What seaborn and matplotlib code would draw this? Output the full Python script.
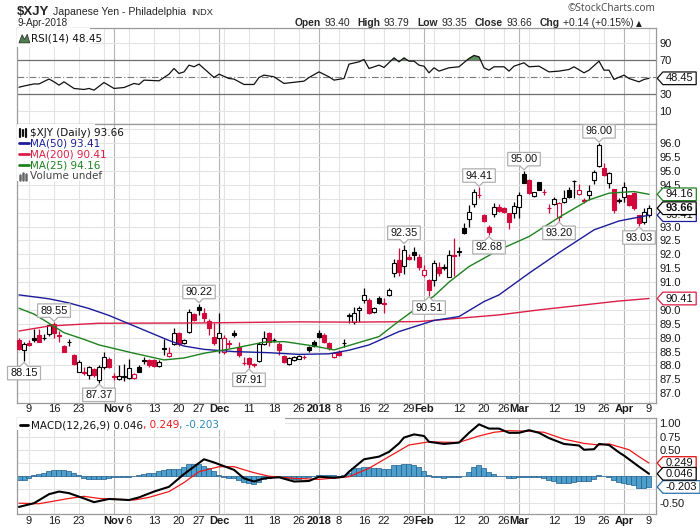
import numpy as np
import pandas as pd
import matplotlib
matplotlib.use("Agg")
import matplotlib.pyplot as plt
from matplotlib.path import Path
from matplotlib.lines import Line2D
from matplotlib.patches import Rectangle, Polygon
import seaborn as sns

# ---------------- data ----------------
holidays = ["2017-11-23", "2017-12-25", "2018-01-01", "2018-01-15", "2018-02-19", "2018-03-30"]
dates = pd.bdate_range("2017-10-05", "2018-04-09")
dates = dates[~dates.isin(pd.to_datetime(holidays))]

prior_close = 88.90
opens = [88.92, 88.54, 88.80, 89.00, 89.10, 88.98, 89.14, 89.50, 89.10, 88.70,
         88.85, 88.38, 87.78, 87.76, 87.66, 87.88, 87.48, 87.93, 88.24, 87.62,
         87.52, 87.60, 87.55, 87.55, 87.93, 88.16, 88.20, 88.20, 87.98, 88.62,
         88.34, 88.78, 89.18, 88.80, 89.22, 89.84, 90.12, 89.90, 89.60, 89.04,
         88.98, 88.50, 88.80, 89.18, 88.68, 88.10, 88.26, 88.05, 88.17, 88.78,
         89.16, 88.92, 88.78, 88.34, 88.05, 88.18, 88.25, 88.30, 88.66, 88.86,
         89.18, 89.10, 88.80, 88.30, 88.50, 88.80, 89.79, 89.58, 89.98, 90.34,
         90.34, 89.94, 90.42, 90.24, 90.54, 91.34, 91.80, 91.58, 91.92, 92.10,
         91.92, 91.26, 91.08, 91.08, 91.53, 91.52, 91.20, 91.96, 92.10, 92.94,
         93.26, 93.82, 94.15, 93.42, 93.00, 93.46, 93.70, 93.66, 93.48, 93.50,
         93.70, 94.88, 94.68, 94.11, 94.60, 94.25, 93.68, 93.82, 93.34, 93.90,
         94.32, 94.65, 94.18, 93.96, 94.12, 94.66, 95.18, 95.10, 94.56, 94.34,
         93.94, 94.08, 94.14, 94.22, 93.42, 93.18, 93.40]
highs = [88.98, 88.85, 88.90, 89.30, 89.30, 89.12, 89.50, 89.55, 89.25, 88.72,
         88.95, 88.42, 88.20, 87.94, 87.98, 87.90, 88.00, 88.47, 88.30, 87.72,
         88.00, 88.05, 88.25, 87.72, 88.00, 88.30, 88.25, 88.22, 88.20, 88.95,
         88.68, 89.34, 89.20, 88.95, 90.02, 89.90, 90.22, 90.06, 89.66, 89.52,
         89.88, 89.10, 88.92, 89.28, 88.86, 88.30, 88.30, 88.10, 88.86, 89.24,
         89.20, 89.00, 88.86, 88.38, 88.30, 88.34, 88.38, 88.36, 88.70, 88.92,
         89.28, 89.16, 88.84, 88.48, 88.55, 88.95, 89.90, 90.12, 90.15, 90.78,
         90.42, 90.12, 90.50, 90.42, 90.78, 91.82, 92.22, 92.35, 92.00, 92.28,
         92.00, 91.62, 91.10, 91.80, 91.74, 91.66, 92.16, 92.58, 92.28, 93.12,
         93.78, 94.35, 94.41, 93.46, 93.05, 93.86, 93.80, 93.70, 93.50, 93.90,
         94.26, 95.00, 94.70, 94.24, 94.62, 94.34, 93.80, 94.08, 93.90, 94.32,
         94.42, 94.68, 94.54, 94.02, 94.50, 95.04, 96.00, 95.28, 94.98, 94.34,
         94.02, 94.62, 94.14, 94.26, 93.42, 93.66, 93.79]
lows = [88.55, 88.15, 88.70, 88.85, 88.85, 88.90, 89.05, 89.00, 88.85, 88.48,
        88.70, 88.02, 87.75, 87.66, 87.50, 87.60, 87.37, 87.86, 87.90, 87.48,
        87.48, 87.45, 87.50, 87.50, 87.75, 88.05, 87.95, 87.95, 87.95, 88.38,
        88.32, 88.74, 88.70, 88.78, 89.18, 89.60, 89.82, 89.58, 89.10, 88.74,
        88.44, 88.42, 88.62, 89.04, 88.32, 88.00, 87.91, 87.94, 88.14, 88.74,
        88.70, 88.85, 88.38, 88.10, 88.02, 88.15, 88.22, 88.22, 88.50, 88.66,
        88.98, 88.80, 88.55, 88.28, 88.33, 88.66, 89.52, 89.50, 89.58, 90.24,
        89.85, 89.90, 90.22, 89.90, 90.50, 91.20, 91.22, 91.30, 91.80, 91.80,
        91.44, 91.20, 90.51, 90.86, 91.22, 91.42, 91.18, 91.22, 91.95, 92.72,
        93.00, 93.70, 94.02, 93.18, 92.68, 93.36, 93.52, 93.50, 92.90, 93.30,
        93.30, 94.56, 94.17, 94.08, 94.30, 94.14, 93.50, 93.78, 93.20, 93.86,
        94.02, 94.02, 94.14, 93.86, 93.96, 94.54, 95.16, 94.82, 94.38, 93.50,
        93.84, 93.90, 93.74, 93.60, 93.03, 93.10, 93.35]
closes = [88.58, 88.76, 88.74, 88.93, 88.86, 89.00, 89.46, 89.16, 89.07, 88.50,
          88.83, 88.07, 88.14, 87.74, 87.94, 87.66, 87.93, 88.32, 87.93, 87.60,
          87.61, 87.62, 87.90, 87.70, 87.78, 88.20, 88.00, 87.98, 88.14, 88.60,
          88.46, 89.18, 88.78, 88.92, 89.94, 89.64, 90.00, 89.72, 89.34, 88.80,
          89.18, 88.98, 88.78, 89.08, 88.38, 88.08, 88.04, 88.00, 88.78, 88.98,
          88.86, 88.90, 88.56, 88.14, 88.26, 88.30, 88.34, 88.29, 88.54, 88.70,
          89.02, 88.86, 88.62, 88.44, 88.36, 88.82, 89.81, 89.88, 90.08, 90.54,
          89.88, 90.08, 90.26, 90.22, 90.72, 91.70, 91.38, 92.16, 91.84, 91.96,
          91.54, 91.44, 90.72, 91.68, 91.32, 91.54, 91.98, 91.94, 92.12, 92.76,
          93.52, 94.26, 94.13, 93.21, 92.82, 93.72, 93.56, 93.54, 93.18, 93.74,
          94.14, 94.56, 94.20, 94.23, 94.32, 94.23, 93.66, 93.98, 93.84, 94.04,
          94.06, 94.64, 94.32, 93.93, 94.28, 94.98, 95.94, 94.86, 94.92, 93.60,
          93.92, 94.44, 93.78, 93.66, 93.12, 93.54, 93.66]

# moving averages read at sample days (trading-day index, value)
ma50_idx = [0, 6, 10, 14, 18, 22, 26, 30, 33, 37, 43, 50, 56, 62, 66, 70, 76, 83, 88, 93, 96, 102, 108, 115, 120, 126]
ma50_val = [90.54, 90.40, 90.25, 90.05, 89.80, 89.50, 89.20, 88.90, 88.70, 88.58, 88.50, 88.46, 88.40, 88.42,
            88.55, 88.74, 89.22, 89.62, 89.76, 90.30, 90.54, 91.32, 92.06, 92.88, 93.20, 93.41]
ma200_idx = [0, 6, 16, 36, 56, 66, 80, 88, 96, 104, 113, 120, 126]
ma200_val = [89.24, 89.42, 89.52, 89.53, 89.57, 89.56, 89.58, 89.70, 89.82, 90.00, 90.18, 90.32, 90.41]
ma25_idx = [0, 3, 6, 9, 13, 16, 23, 29, 33, 37, 43, 49, 53, 59, 63, 72, 76, 80, 83, 86, 90, 93, 96, 102, 108,
            114, 118, 123, 126]
ma25_val = [90.06, 89.85, 89.52, 89.18, 88.94, 88.74, 88.44, 88.20, 88.27, 88.44, 88.62, 88.84, 88.86, 88.70,
            88.56, 89.04, 89.60, 90.12, 90.50, 91.00, 91.56, 91.86, 92.16, 92.64, 93.33, 93.96, 94.20, 94.26, 94.16]

rsi_idx = [0, 1, 3, 4, 6, 7, 8, 9, 11, 13, 14, 15, 17, 19, 21, 23, 24, 25, 28, 30, 31, 32, 33, 34, 35, 36,
           39, 40, 42, 43, 45, 47, 48, 49, 51, 53, 57, 58, 60, 62, 63, 65, 66, 68, 69, 70, 72, 73, 75, 76,
           77, 78, 79, 80, 81, 82, 83, 84, 86, 88, 90, 91, 92, 93, 94, 95, 97, 98, 99, 101, 102, 104, 106,
           108, 110, 111, 113, 114, 116, 117, 118, 119, 121, 122, 124, 125, 126]
rsi_val = [37.9, 39.4, 41.8, 41.8, 47.6, 44.3, 40.4, 44.3, 36.5, 35.3, 36.5, 34.5, 43.5, 36.5, 37.6, 42.4,
           41.2, 46.3, 45.5, 53.3, 60.0, 54.1, 56.0, 63.9, 62.0, 65.1, 49.4, 53.3, 48.2, 47.5, 41.2, 41.2,
           49.4, 52.2, 50.2, 42.4, 45.1, 49.4, 56.0, 50.2, 46.3, 48.2, 65.1, 67.8, 70.6, 60.0, 63.9, 61.2,
           72.5, 67.8, 72.5, 68.6, 68.6, 63.9, 62.7, 54.9, 60.8, 56.9, 60.8, 62.0, 71.8, 75.3, 73.7, 60.8,
           58.0, 62.0, 62.0, 56.9, 62.7, 66.7, 62.0, 62.7, 56.0, 56.9, 58.8, 62.0, 54.9, 58.0, 68.6, 58.0,
           58.0, 47.1, 52.2, 48.2, 44.3, 47.1, 48.45]

macd_idx = [0, 3, 6, 8, 10, 13, 15, 18, 22, 24, 27, 30, 32, 33, 35, 37, 39, 41, 43, 45, 47, 49, 52, 55, 58,
            60, 63, 65, 66, 69, 72, 74, 76, 77, 79, 81, 82, 85, 88, 90, 92, 94, 96, 98, 100, 102, 104, 106,
            109, 112, 113, 115, 116, 118, 120, 121, 124, 126]
macd_val = [-0.58, -0.51, -0.34, -0.29, -0.32, -0.42, -0.49, -0.43, -0.45, -0.40, -0.29, -0.20, -0.04, 0.04,
            0.18, 0.32, 0.26, 0.19, 0.12, -0.04, -0.10, -0.04, -0.02, -0.10, -0.09, -0.01, -0.03, -0.01,
            0.085, 0.32, 0.37, 0.46, 0.62, 0.73, 0.79, 0.76, 0.65, 0.61, 0.635, 0.82, 0.98, 0.90, 0.90,
            0.82, 0.82, 0.87, 0.82, 0.72, 0.61, 0.58, 0.50, 0.51, 0.61, 0.59, 0.45, 0.39, 0.18, 0.046]
signal_idx = [0, 4, 10, 13, 16, 23, 26, 30, 33, 36, 40, 43, 47, 50, 55, 60, 66, 70, 74, 78, 82, 86, 88, 92,
              95, 98, 102, 105, 109, 113, 116, 118, 122, 124, 126]
signal_val = [-0.51, -0.52, -0.42, -0.38, -0.42, -0.45, -0.40, -0.29, -0.12, 0.085, 0.18, 0.18, 0.066, 0.0,
              -0.04, -0.06, -0.01, 0.15, 0.37, 0.59, 0.65, 0.64, 0.64, 0.76, 0.83, 0.86, 0.85, 0.83, 0.70,
              0.62, 0.59, 0.61, 0.50, 0.37, 0.249]
hist_val = [-0.08, -0.07, -0.03, 0.02, 0.04, 0.06, 0.09, 0.11, 0.11, 0.11,
            0.09, 0.07, 0.02, -0.03, -0.05, -0.05, -0.05, -0.05, -0.03, -0.01,
            -0.01, -0.01, -0.01, 0.00, 0.02, 0.04, 0.06, 0.07, 0.09, 0.11,
            0.13, 0.14, 0.14, 0.18, 0.23, 0.23, 0.23, 0.20, 0.15, 0.09,
            0.02, -0.02, -0.04, -0.04, -0.08, -0.10, -0.13, -0.14, -0.10, -0.06,
            -0.03, -0.01, -0.01, -0.02, -0.04, -0.05, -0.05, -0.04, -0.02, 0.00,
            0.03, 0.03, 0.03, 0.02, 0.00, 0.02, 0.06, 0.15, 0.15, 0.18,
            0.18, 0.15, 0.15, 0.13, 0.13, 0.21, 0.21, 0.24, 0.24, 0.22,
            0.17, 0.09, 0.02, -0.01, -0.02, -0.04, -0.02, -0.01, -0.01, 0.01,
            0.08, 0.17, 0.21, 0.15, 0.08, 0.05, 0.01, 0.00, -0.04, -0.03,
            -0.01, -0.01, -0.01, -0.01, -0.02, -0.03, -0.08, -0.09, -0.12, -0.12,
            -0.12, -0.10, -0.09, -0.09, -0.09, -0.06, 0.02, 0.01, -0.01, -0.07,
            -0.11, -0.12, -0.15, -0.17, -0.22, -0.23, -0.203]

# labels on highs / lows: (trading-day index, price, above?)
hl_idx = [1, 7, 16, 36, 46, 77, 82, 92, 94, 101, 108, 116, 124]
hl_price = [88.15, 89.55, 87.37, 90.22, 87.91, 92.35, 90.51, 94.41, 92.68, 95.00, 93.20, 96.00, 93.03]
hl_above = [False, True, False, True, False, True, False, True, False, True, False, True, False]

tick_dates = ["2017-10-09", "2017-10-16", "2017-10-23", "2017-11-01", "2017-11-06", "2017-11-13",
              "2017-11-20", "2017-11-27", "2017-12-01", "2017-12-11", "2017-12-18", "2017-12-26",
              "2018-01-02", "2018-01-08", "2018-01-16", "2018-01-22", "2018-01-29", "2018-02-01",
              "2018-02-12", "2018-02-20", "2018-02-26", "2018-03-01", "2018-03-12", "2018-03-19",
              "2018-03-26", "2018-04-02", "2018-04-09"]
tick_labels = ["9", "16", "23", "Nov", "6", "13", "20", "27", "Dec", "11", "18", "26", "2018", "8", "16",
               "22", "29", "Feb", "12", "20", "26", "Mar", "12", "19", "26", "Apr", "9"]
week_grid = ["2017-10-09", "2017-10-16", "2017-10-23", "2017-10-30", "2017-11-06", "2017-11-13",
             "2017-11-20", "2017-11-27", "2017-12-04", "2017-12-11", "2017-12-18", "2017-12-26",
             "2018-01-08", "2018-01-16", "2018-01-22", "2018-01-29", "2018-02-05", "2018-02-12",
             "2018-02-20", "2018-02-26", "2018-03-05", "2018-03-12", "2018-03-19", "2018-03-26",
             "2018-04-09"]
month_grid = ["2017-11-01", "2017-12-01", "2018-01-02", "2018-02-01", "2018-03-01", "2018-04-02"]
price_ticks = [87.0, 87.5, 88.0, 88.5, 89.0, 89.5, 90.0, 91.0, 91.5, 92.0, 92.5, 93.0, 94.5, 95.0, 95.5, 96.0]

ohlc_items = [("Open", "93.40"), ("High", "93.79"), ("Low", "93.35"), ("Close", "93.66"), ("Chg", "+0.14 (+0.15%)")]
last_close, last_ma50, last_ma200, last_ma25 = 93.66, 93.41, 90.41, 94.16
last_rsi = 48.45
last_macd, last_signal, last_hist = 0.046, 0.249, -0.203

# ---------------- style ----------------
sns.set_theme(style="white")
plt.rcParams["font.family"] = ["DejaVu Sans"]
plt.rcParams["axes.linewidth"] = 0.8
AF = ["Liberation Sans", "DejaVu Sans"]

RED = "#d20a3c"
BLUE_MA = "#1c1c9a"
RED_MA = "#dc1e46"
GREEN_MA = "#1e821e"
GRID = "#e3e3e3"
MGRID = "#b5b5b5"
SPINE = "#9a9a9a"

fig = plt.figure(figsize=(7, 5.3), dpi=100)
L, W = 17 / 700, 639 / 700


def fy(y):
    return 1 - y / 530


ax_rsi = fig.add_axes([L, fy(124), W, 96 / 530])
ax_main = fig.add_axes([L, fy(403), W, 279 / 530])
ax_macd = fig.add_axes([L, fy(514), W, 96 / 530])

pos = {d: i for i, d in enumerate(dates)}
tick_pos = [pos[pd.Timestamp(d)] for d in tick_dates]
wk_pos = [pos[pd.Timestamp(d)] for d in week_grid]
mo_pos = [pos[pd.Timestamp(d)] for d in month_grid]

for ax in (ax_rsi, ax_main, ax_macd):
    ax.set_xlim(-0.4, 127.4)
    for g in wk_pos:
        ax.axvline(g, color=GRID, lw=0.8, zorder=0)
    for g in mo_pos:
        ax.axvline(g, color=MGRID, lw=0.8, zorder=0)
    for s in ax.spines.values():
        s.set_color(SPINE)
        s.set_linewidth(0.9)
    ax.yaxis.tick_right()
    ax.tick_params(axis="y", length=0, pad=2.5, labelsize=8, labelcolor="#1a1a1a")
    ax.tick_params(axis="x", length=0, labelsize=8, labelcolor="#1a1a1a")


def set_font(labels):
    for lab in labels:
        lab.set_family(AF)


def tag_box(x0, y0, width, height, mutation_size):
    pad = 0.12 * mutation_size
    x0 -= pad + 1.5
    y0 -= pad
    width += 2 * pad + 3
    height += 2 * pad
    x1, y1 = x0 + width, y0 + height
    ym = (y0 + y1) / 2
    t = 0.45 * height
    return Path([(x0, y0), (x1, y0), (x1, y1), (x0, y1), (x0 - t, ym), (x0, y0)], closed=True)


def callout(above):
    def style(x0, y0, width, height, mutation_size):
        pad = 0.16 * mutation_size
        x0 -= pad + 1
        y0 -= pad
        width += 2 * pad + 2
        height += 2 * pad
        x1, y1 = x0 + width, y0 + height
        xm = (x0 + x1) / 2
        t = 0.3 * height
        if above:
            v = [(x0, y0), (xm - t, y0), (xm, y0 - t), (xm + t, y0), (x1, y0), (x1, y1), (x0, y1), (x0, y0)]
        else:
            v = [(x0, y0), (x1, y0), (x1, y1), (xm + t, y1), (xm, y1 + t), (xm - t, y1), (x0, y1), (x0, y0)]
        return Path(v, closed=True)
    return style


def tag(ax, val, text, ec, bold=False, z=10):
    ax.annotate(text, xy=(1.0, val), xycoords=ax.get_yaxis_transform(), xytext=(7, 0),
                textcoords="offset points", ha="left", va="center", fontsize=8, family=AF,
                fontweight="bold" if bold else "normal", color="#111111",
                bbox=dict(boxstyle=tag_box, fc="white", ec=ec, lw=0.9),
                annotation_clip=False, zorder=z)


def xticks(ax, pad):
    ax.set_xticks(tick_pos)
    ax.set_xticklabels(tick_labels)
    ax.tick_params(axis="x", pad=pad)
    for lab in ax.get_xticklabels():
        lab.set_family(AF)
        if lab.get_text().isalpha() or lab.get_text() == "2018":
            lab.set_fontweight("bold")


# ---------------- RSI panel ----------------
ax_rsi.set_ylim(-5.3, 107.6)
for v in (10, 90):
    ax_rsi.axhline(v, color=GRID, lw=0.8, zorder=0)
ax_rsi.axhline(70, color="#6e6e6e", lw=0.9, zorder=1)
ax_rsi.axhline(30, color="#6e6e6e", lw=0.9, zorder=1)
ax_rsi.axhline(50, color="#7a7a7a", lw=0.8, ls=(0, (6, 2, 1, 2)), zorder=1)
rsi_arr = np.array(rsi_val)
ax_rsi.fill_between(rsi_idx, rsi_arr, 70, where=rsi_arr > 70, interpolate=True, color="#5e8f5e", lw=0, zorder=2)
sns.lineplot(x=rsi_idx, y=rsi_val, ax=ax_rsi, color="#111111", lw=0.9, legend=False, zorder=3)
ax_rsi.set_yticks([10, 30, 70, 90])
ax_rsi.set_yticklabels(["10", "30", "70", "90"])
set_font(ax_rsi.get_yticklabels())
ax_rsi.set_xticks([])
ax_rsi.set_xlabel("")
ax_rsi.set_ylabel("")
tag(ax_rsi, last_rsi, f"{last_rsi:.2f}", "#111111")
ax_rsi.add_patch(Rectangle((0.0, 0.80), 0.115, 0.195, transform=ax_rsi.transAxes, fc="white", ec="none", zorder=5))
ax_rsi.add_patch(Polygon([(0.003, 0.845), (0.008, 0.93), (0.012, 0.88), (0.016, 0.935), (0.02, 0.845)],
                         closed=True, transform=ax_rsi.transAxes, fc="#4f7f4f", ec="#222", lw=0.5, zorder=6))
ax_rsi.text(0.022, 0.89, f"RSI(14) {last_rsi:.2f}", transform=ax_rsi.transAxes, fontsize=7.5,
            va="center", ha="left", color="#111", zorder=7)

# ---------------- main price panel ----------------
ax_main.set_ylim(86.65, 96.69)
for v in np.arange(87.0, 96.51, 0.5):
    ax_main.axhline(v, color=GRID, lw=0.8, zorder=0)

o = np.array(opens)
h = np.array(highs)
l = np.array(lows)
c = np.array(closes)
idx = np.arange(len(c))
prev = np.r_[prior_close, c[:-1]]
edge = np.where(c >= prev, "#000000", RED)
face = np.where(c > o, "#ffffff", edge)
ax_main.vlines(idx, l, h, colors=edge, lw=0.9, zorder=3)
bot = np.minimum(o, c)
hgt = np.maximum(np.abs(c - o), 0.012)
ax_main.bar(idx, hgt, bottom=bot, width=0.62, color=face, edgecolor=edge, linewidth=0.8, zorder=4)

sns.lineplot(x=ma200_idx, y=ma200_val, ax=ax_main, color=RED_MA, lw=1.0, legend=False, zorder=5)
sns.lineplot(x=ma50_idx, y=ma50_val, ax=ax_main, color=BLUE_MA, lw=1.0, legend=False, zorder=5)
sns.lineplot(x=ma25_idx, y=ma25_val, ax=ax_main, color=GREEN_MA, lw=1.0, legend=False, zorder=5)

for i, p, up in zip(hl_idx, hl_price, hl_above):
    ax_main.annotate(f"{p:.2f}", xy=(i, p), xytext=(0, 8.5 if up else -8.5), textcoords="offset points",
                     ha="center", va="center", fontsize=7.8, family=AF, color="#111",
                     bbox=dict(boxstyle=callout(up), fc="white", ec="#b0b0b0", lw=0.9),
                     annotation_clip=False, zorder=8)

ax_main.set_yticks(price_ticks)
ax_main.set_yticklabels([f"{v:.1f}" for v in price_ticks])
set_font(ax_main.get_yticklabels())
xticks(ax_main, 0.8)
ax_main.set_xlabel("")
ax_main.set_ylabel("")

tag(ax_main, last_ma25, f"{last_ma25:.2f}", GREEN_MA, z=10)
tag(ax_main, last_ma50, f"{last_ma50:.2f}", BLUE_MA, z=10)
tag(ax_main, last_close, f"{last_close:.2f}", "#000000", bold=True, z=11)
tag(ax_main, last_ma200, f"{last_ma200:.2f}", RED_MA, z=10)

# legend block
ax_main.add_patch(Rectangle((0.0, 0.795), 0.122, 0.205, transform=ax_main.transAxes, fc="white", ec="none", zorder=9))
leg = [(f"$XJY (Daily) {last_close:.2f}", "#111111", 132.7),
       (f"MA(50) {last_ma50:.2f}", BLUE_MA, 143.3),
       (f"MA(200) {last_ma200:.2f}", RED_MA, 154.3),
       (f"MA(25) {last_ma25:.2f}", GREEN_MA, 165.3),
       ("Volume undef", "#444444", 175.7)]
for k, (txt, col, yy) in enumerate(leg):
    fig.text(30 / 700, fy(yy), txt, fontsize=7.5, color=col, va="center", ha="left", zorder=12)
    if k in (1, 2, 3):
        fig.add_artist(Line2D([19 / 700, 29 / 700], [fy(yy), fy(yy)], color=col, lw=2.0, zorder=12))
for dx, hh in ((20, 4), (23, 3), (26, 4)):
    fig.add_artist(Line2D([dx / 700, dx / 700], [fy(132.7 - hh), fy(132.7 + hh)], color="#111", lw=1.6, zorder=12))
for dx, hh in ((20, 3), (23, 5), (26, 4)):
    fig.add_artist(Line2D([dx / 700, dx / 700], [fy(179.5), fy(179.5 - hh * 1.4)], color="#666", lw=1.8, zorder=12))

# ---------------- MACD panel ----------------
ax_macd.set_ylim(-0.714, 1.10)
for v in np.arange(-0.5, 1.01, 0.25):
    ax_macd.axhline(v, color=GRID, lw=0.8, zorder=0)
ax_macd.bar(idx, hist_val, width=1.0, color="#4f9fcc", edgecolor="#1f5d8c", linewidth=0.5, zorder=2)
sns.lineplot(x=signal_idx, y=signal_val, ax=ax_macd, color="#f01818", lw=0.9, legend=False, zorder=3)
sns.lineplot(x=macd_idx, y=macd_val, ax=ax_macd, color="#000000", lw=1.5, legend=False, zorder=4)
ax_macd.set_yticks([-0.5, 0.5, 0.75, 1.0])
ax_macd.set_yticklabels(["-0.50", "0.50", "0.75", "1.00"])
set_font(ax_macd.get_yticklabels())
xticks(ax_macd, 1.6)
ax_macd.set_xlabel("")
ax_macd.set_ylabel("")
tag(ax_macd, last_signal, f"{last_signal:.3f}", "#e01010", z=10)
tag(ax_macd, last_macd, f"{last_macd:.3f}", "#000000", z=11)
tag(ax_macd, last_hist, f"{last_hist:.3f}", "#2a6fae", z=10)
ax_macd.add_patch(Rectangle((0.0, 0.87), 0.42, 0.13, transform=ax_macd.transAxes, fc="white", ec="none", zorder=6))
fig.add_artist(Line2D([20 / 700, 28 / 700], [fy(425), fy(425)], color="#000", lw=2.0, zorder=12))

fig.canvas.draw()
r = fig.canvas.get_renderer()
t1 = fig.text(31 / 700, fy(425), f"MACD(12,26,9) {last_macd:.3f}", fontsize=7.5, color="#111", va="center", zorder=12)
bb = t1.get_window_extent(r)
t2 = fig.text(bb.x1 / 700, fy(425), f", {last_signal:.3f}", fontsize=7.5, color="#f01818", va="center", zorder=12)
bb2 = t2.get_window_extent(r)
fig.text(bb2.x1 / 700, fy(425), f", {last_hist:.3f}", fontsize=7.5, color="#2a8ac0", va="center", zorder=12)

# ---------------- header ----------------
fig.text(17 / 700, fy(15), "$XJY", fontsize=9.5, fontweight="bold", family=AF, va="baseline")
fig.text(53 / 700, fy(15), "Japanese Yen - Philadelphia", fontsize=7.6, family=AF, va="baseline")
fig.text(191 / 700, fy(15), "INDX", fontsize=6.6, family=AF, va="baseline")
fig.text(17 / 700, fy(25.7), "9-Apr-2018", fontsize=7.2, family=AF, va="baseline")
fig.text(655 / 700, fy(11), "\u00a9StockCharts.com", fontsize=7.3, family=["Open Sans", "DejaVu Sans"],
         color="#444444", ha="right", va="baseline")

xcur = 295.0
for name, val in ohlc_items:
    tn = fig.text(xcur / 700, fy(25.7), name, fontsize=7.4, fontweight="bold", family=AF, va="baseline")
    xcur = tn.get_window_extent(r).x1 + 3
    tv = fig.text(xcur / 700, fy(25.7), val, fontsize=7.4, family=AF, va="baseline")
    xcur = tv.get_window_extent(r).x1 + 8
fig.text((xcur - 5) / 700, fy(25.7), "\u25b2", fontsize=5.5, family=["DejaVu Sans"], va="baseline", color="#222")

fig.savefig("out.png", dpi=100)
